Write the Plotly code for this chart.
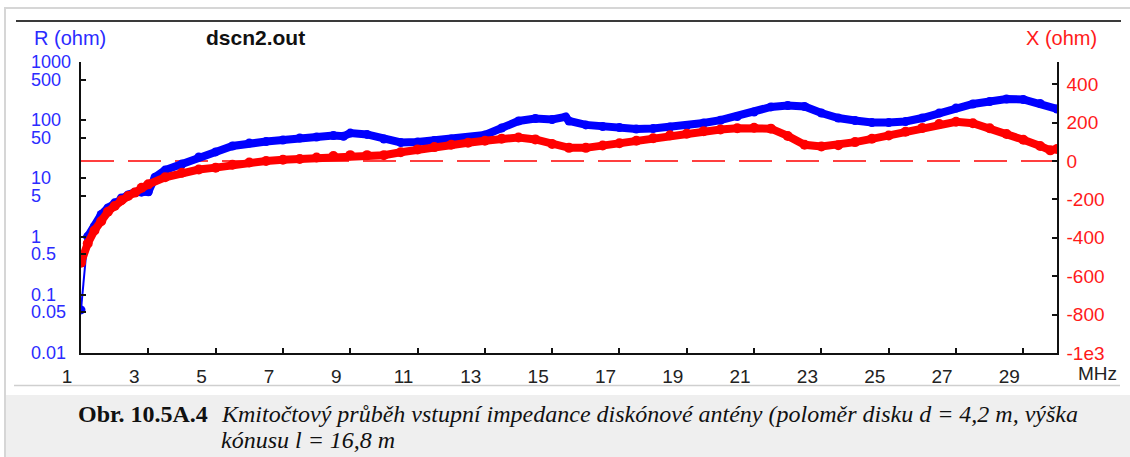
import math
import plotly.graph_objects as go

W, H = 1130, 457

# ---------------- data ----------------
freq_r = [1.0, 1.2, 1.4, 1.6, 1.8, 2.0, 2.2, 2.4, 2.6, 2.8, 3.0, 3.2, 3.5,
          4.0, 4.5, 5.0, 5.5, 6.0, 6.5, 7.0, 7.5, 8.0, 8.5, 8.8, 9.0, 9.5,
          10.0, 10.5, 11.0, 11.5, 12.0, 12.5, 13.0, 13.5, 14.0, 14.5, 15.0,
          15.4, 15.5, 16.0, 16.5, 17.0, 17.5, 18.0, 18.5, 19.0, 19.5, 20.0,
          20.5, 21.0, 21.5, 22.0, 22.5, 23.0, 23.5, 24.0, 24.5, 25.0, 25.5,
          26.0, 26.5, 27.0, 27.5, 28.0, 28.5, 29.0, 29.5, 30.0]
r_ohm = [0.055, 1.0, 1.5, 2.4, 3.1, 3.8, 4.6, 5.2, 5.8, 5.8, 5.9, 10.5, 13.9,
         17.7, 23.3, 28.5, 36, 40.6, 43, 45.7, 49.5, 51.4, 54.6, 53, 60, 57,
         47.5, 41.4, 42.2, 44.8, 47.5, 50.5, 55.7, 73.5, 97, 107, 103,
         114, 97, 83, 78, 75, 70.6, 72, 76.4, 81, 89.5, 100,
         116, 138, 169, 179, 172, 133, 109, 99, 91, 91, 95,
         109, 133, 162, 190, 210, 231, 227, 194, 156]

freq_x = [1.0, 1.2, 1.4, 1.6, 1.8, 2.0, 2.2, 2.4, 2.6, 2.8, 3.0, 3.5, 4.0,
          4.5, 5.0, 5.5, 6.0, 6.5, 7.0, 7.5, 8.0, 8.5, 9.0, 9.5, 10.0, 10.5,
          11.0, 11.5, 12.0, 12.5, 13.0, 13.5, 14.0, 14.5, 15.0, 15.5, 16.0,
          16.5, 17.0, 17.5, 18.0, 18.5, 19.0, 19.5, 20.0, 20.5, 21.0, 21.5,
          22.0, 22.5, 23.0, 23.5, 24.0, 24.5, 25.0, 25.5, 26.0, 26.5, 27.0,
          27.5, 28.0, 28.5, 29.0, 29.5, 29.8, 30.0]
x_ohm = [-530, -430, -362, -314, -265, -235, -205, -183, -165, -140, -122, -85, -62,
         -45, -35, -20, -8, 0, 6, 10, 18, 25, 30, 30, 30, 45,
         60, 72, 84, 95, 105, 116, 122, 112, 88, 68, 68,
         80, 92, 105, 118, 133, 142, 155, 164, 170, 173, 168,
         130, 84, 75, 82, 98, 115, 132, 152, 172, 192, 204,
         196, 170, 140, 110, 78, 55, 62]

x_ticks = [1, 3, 5, 7, 9, 11, 13, 15, 17, 19, 21, 23, 25, 27, 29]
left_ticks = [0.01, 0.05, 0.1, 0.5, 1, 5, 10, 50, 100, 500, 1000]
left_ticktext = ["0.01", "0.05", "0.1", "0.5", "1", "5", "10", "50", "100", "500", "1000"]
right_ticks = [-1000, -800, -600, -400, -200, 0, 200, 400]
right_ticktext = ["-1e3", "-800", "-600", "-400", "-200", "0", "200", "400"]

BLUE = "#0000ff"
RED = "#ff0000"
BLUE_TXT = "#2b2bff"
RED_TXT = "#ff1a1a"
SANS = "Liberation Sans, Arial, sans-serif"
SERIF = "Liberation Serif, Times New Roman, serif"


def px(x):
    return x / W


def py(y):
    return 1 - y / H


fig = go.Figure()

# R: first thin connecting segment, then the dense marker band
fig.add_trace(go.Scatter(x=freq_r[:2], y=r_ohm[:2], mode="lines+markers",
                         line=dict(color=BLUE, width=2),
                         marker=dict(color=BLUE, size=9), yaxis="y",
                         showlegend=False, hoverinfo="skip"))
fig.add_trace(go.Scatter(x=freq_r[1:], y=r_ohm[1:], mode="lines+markers",
                         line=dict(color=BLUE, width=8),
                         marker=dict(color=BLUE, size=9), yaxis="y",
                         showlegend=False, hoverinfo="skip"))
fig.add_trace(go.Scatter(x=freq_x, y=x_ohm, mode="lines+markers",
                         line=dict(color=RED, width=8),
                         marker=dict(color=RED, size=10), yaxis="y2",
                         showlegend=False, hoverinfo="skip"))

shapes = [
    # outer light frame
    dict(type="rect", xref="paper", yref="paper", x0=px(5), x1=px(1140),
         y0=py(8), y1=py(470), line=dict(color="#d6d6d6", width=2),
         fillcolor="rgba(0,0,0,0)", layer="below"),
    # caption background
    dict(type="rect", xref="paper", yref="paper", x0=px(6), x1=px(1130),
         y0=py(395), y1=py(457), line=dict(width=0), fillcolor="#efefef",
         layer="below"),
    # top edge of chart picture
    dict(type="line", xref="paper", yref="paper", x0=px(16), x1=px(1121),
         y0=py(21), y1=py(21), line=dict(color="#3a3a3a", width=2),
         layer="below"),
    # bottom edge of chart picture
    dict(type="line", xref="paper", yref="paper", x0=px(14), x1=px(1120),
         y0=py(385.5), y1=py(385.5), line=dict(color="#cfcfcf", width=1.5),
         layer="below"),
    # X = 0 dashed line
    dict(type="line", xref="x", yref="y2", x0=1, x1=30, y0=0, y1=0,
         line=dict(color=RED, width=1.5, dash="33px,14px"), layer="below"),
]

annotations = [
    dict(text="R (ohm)", x=px(32), y=py(38), xanchor="left", yanchor="middle",
         font=dict(family=SANS, size=20, color=BLUE_TXT)),
    dict(text="<b>dscn2.out</b>", x=px(255), y=py(37), xanchor="center",
         yanchor="middle", font=dict(family=SANS, size=21, color="#111111")),
    dict(text="X (ohm)", x=px(1099), y=py(38), xanchor="right", yanchor="middle",
         font=dict(family=SANS, size=20, color=RED_TXT)),
    dict(text="MHz", x=px(1097), y=py(373), xanchor="center", yanchor="middle",
         font=dict(family=SANS, size=19, color="#222222")),
    dict(text="<b>Obr. 10.5A.4</b>", x=px(76), y=py(414), xanchor="left",
         yanchor="middle", font=dict(family=SERIF, size=24, color="#111111")),
    dict(text="<i>Kmitočtový průběh vstupní impedance diskónové antény (poloměr disku d = 4,2 m, výška</i>",
         x=px(219), y=py(414), xanchor="left", yanchor="middle",
         font=dict(family=SERIF, size=24, color="#111111")),
    dict(text="<i>kónusu l = 16,8 m</i>", x=px(219), y=py(440), xanchor="left",
         yanchor="middle", font=dict(family=SERIF, size=24, color="#111111")),
]

# left (log) tick labels, left-aligned as in the original program
for v, t in zip(left_ticks, left_ticktext):
    annotations.append(dict(text=t, x=px(29), xref="paper", y=math.log10(v),
                            yref="y", xanchor="left", yanchor="middle",
                            font=dict(family=SANS, size=18, color=BLUE_TXT)))

for a in annotations:
    a.setdefault("xref", "paper")
    a.setdefault("yref", "paper")
    a["showarrow"] = False

fig.update_layout(
    width=W, height=H,
    margin=dict(l=0, r=0, t=0, b=0, pad=0, autoexpand=False),
    paper_bgcolor="white",
    plot_bgcolor="rgba(0,0,0,0)",
    showlegend=False,
    shapes=shapes,
    annotations=annotations,
    xaxis=dict(domain=[px(81), px(1057)], range=[1, 30], tickmode="array",
               tickvals=x_ticks, ticktext=[str(t) for t in x_ticks],
               ticks="inside", ticklen=5, tickcolor="#111111", tickwidth=1.5,
               showline=True, linecolor="#111111", linewidth=1.5,
               showgrid=False, zeroline=False, anchor="y", automargin=False,
               tickfont=dict(family=SANS, size=19, color="#222222"),
               ticklabelshift=-14, ticklabelstandoff=5),
    yaxis=dict(domain=[py(353), py(62)], type="log", range=[-2, 3],
               tickmode="array", tickvals=left_ticks, showticklabels=False,
               ticks="inside", ticklen=5, tickcolor="#111111", tickwidth=1.5,
               showline=True, linecolor="#111111", linewidth=1.5,
               showgrid=False, zeroline=False, anchor="x", automargin=False),
    yaxis2=dict(overlaying="y", side="right", anchor="x", range=[-1000, 515],
                tickmode="array", tickvals=right_ticks, ticktext=right_ticktext,
                ticks="inside", ticklen=5, tickcolor="#111111", tickwidth=1.5,
                showline=True, linecolor="#111111", linewidth=1.5,
                showgrid=False, zeroline=False, automargin=False,
                tickfont=dict(family=SANS, size=19, color=RED_TXT),
                ticklabelstandoff=4),
)

fig.write_html("out.html",
               config={"displayModeBar": False},
               post_script="document.body.style.margin='0px';"
                           "document.body.style.overflow='hidden';")
